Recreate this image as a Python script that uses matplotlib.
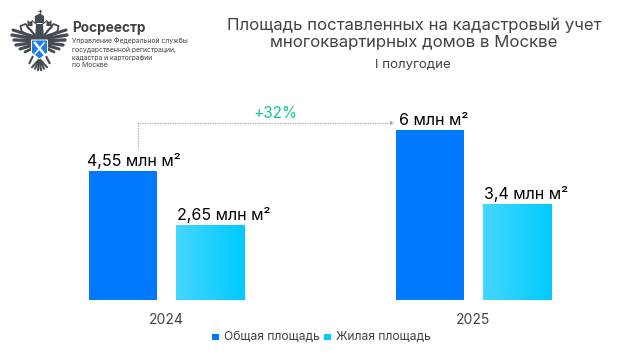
import numpy as np
import matplotlib
matplotlib.use('Agg')
import matplotlib.pyplot as plt
from matplotlib.patches import Polygon, Rectangle

years = ['2024', '2025']
total_area = [4.55, 6.0]
living_area = [2.65, 3.4]
total_labels = ['4,55 млн м²', '6 млн м²']
living_labels = ['2,65 млн м²', '3,4 млн м²']
legend_names = ['Общая площадь', 'Жилая площадь']
title_lines = ['Площадь поставленных на кадастровый учет', 'многоквартирных домов в Москве']
subtitle = 'I полугодие'
change_label = '+32%'
org_name = 'Росреестр'
org_lines = ['Управление Федеральной службы', 'государственной регистрации,', 'кадастра и картографии', 'по Москве']

BLUE = '#0079FF'
CYAN_L = '#45D6FF'
CYAN_R = '#00CBFF'
DARK = '#404246'
W, H = 637, 358

plt.rcParams['font.family'] = ['Inter', 'DejaVu Sans']


def draw_logo(ov):
    grey = '#454B52'
    cx = 39.5
    for s in (-1, 1):
        # wing feathers fan out from the body
        for (tx, ty), lw in zip([(13, 30), (12, 35), (14, 40), (16, 45), (20, 49), (25, 52)], [2.2, 2.4, 2.4, 2.4, 2.2, 2.0]):
            ov.plot([cx + s * 8, cx - s * (39.5 - tx)], [41, ty], color=grey, lw=lw, solid_capstyle='round')
        # neck, hooked head and crown
        ov.plot([cx + s * 5, cx + s * 11, cx + s * 18, cx + s * 19, cx + s * 14, cx + s * 12],
                [38, 36, 31, 26, 24, 26], color=grey, lw=1.3)
        ov.plot([cx + s * 4, cx + s * 9, cx + s * 12], [36, 30, 27], color=grey, lw=1.6)
        ov.add_patch(Polygon([(cx + s * 7, 26), (cx + s * 7, 20), (cx + s * 9.5, 22), (cx + s * 12, 20), (cx + s * 12, 26)],
                             closed=True, fc=grey, ec='none'))
        ov.plot([cx + s * 2, cx + s * 7], [25, 21], color=grey, lw=0.8)
        # legs
        ov.plot([cx + s * 7, cx + s * 10], [57, 63], color=grey, lw=1.5)
    # middle crown and cross
    ov.add_patch(Polygon([(35, 23), (35, 16), (39.5, 13.5), (44, 16), (44, 23)], closed=True, fc=grey, ec='none'))
    ov.plot([39.5, 39.5], [9.5, 14], color=grey, lw=0.9)
    ov.plot([38, 41], [11, 11], color=grey, lw=0.6)
    ov.add_patch(Polygon([(36, 24), (43, 24), (44, 40), (35, 40)], closed=True, fc=grey, ec='none'))
    # tail
    for tx in (32, 35, 38, 41, 44, 47):
        ov.plot([39.5, tx], [59, 71 - abs(tx - 39.5) * 0.5], color=grey, lw=1.5, solid_capstyle='round')
    # shield
    ov.add_patch(Polygon([(31.5, 40), (47.5, 40), (47.5, 53), (39.5, 59), (31.5, 53)], closed=True,
                         fc='#1B7FEA', ec='white', lw=0.7, zorder=4))
    ov.plot([35, 44], [43, 54], color='white', lw=1.8, zorder=5)
    ov.plot([44, 35], [43, 54], color='white', lw=1.1, zorder=5)


fig = plt.figure(figsize=(W / 100, H / 100), dpi=100)

# bar area: y=0 sits at pixel row 300, position 0 and 1 at the group centres
ax = fig.add_axes([13 / W, 1 - 300 / H, 614 / W, 184.2 / H])
x = np.arange(len(years))
bar_w = 0.2215
off = 0.1417
b1 = ax.bar(x - off, total_area, bar_w, color=BLUE)
b2 = ax.bar(x + off, living_area, bar_w, color=CYAN_R)
ax.axis('off')

# living area bars fade from left to right
grad = matplotlib.colors.LinearSegmentedColormap.from_list('cy', [CYAN_L, CYAN_R])
for bar in b2:
    x0, w, h = bar.get_x(), bar.get_width(), bar.get_height()
    im = ax.imshow(np.linspace(0, 1, 64).reshape(1, -1), extent=(x0, x0 + w, 0, h), cmap=grad, aspect='auto', zorder=3)
    im.set_clip_path(bar)
ax.set_xlim(-0.5, 1.5)
ax.set_ylim(0, 6.5)

# value labels start near the left edge of their bars, nudged by hand
nudge_total = [-1.4, 2.0]
nudge_living = [0.5, 0.8]
for i in x:
    ax.annotate(total_labels[i], (i - off - bar_w / 2, total_area[i]), xytext=(nudge_total[i], 1.2), textcoords='offset points',
                ha='left', va='bottom', fontsize=11.5, color='black')
    ax.annotate(living_labels[i], (i + off - bar_w / 2, living_area[i]), xytext=(nudge_living[i], 1.2), textcoords='offset points',
                ha='left', va='bottom', fontsize=11.5, color='black')
    ax.annotate(years[i], (i, 0), xytext=(0, -9.5), textcoords='offset points',
                ha='center', va='top', fontsize=10, color=DARK)

# overlay in pixel coordinates for the header, legend and arrow
ov = fig.add_axes([0, 0, 1, 1], facecolor='none')
ov.set_xlim(0, W)
ov.set_ylim(H, 0)
ov.axis('off')

for y, line in zip((25, 43), title_lines):
    ov.text(414, y, line, ha='center', va='center', fontsize=12.05, color=DARK)
ov.text(413, 65, subtitle, ha='center', va='center', fontsize=9.6, color=DARK)

draw_logo(ov)
ov.text(72, 28, org_name, ha='left', va='center', fontsize=9.8, fontweight='bold', color=DARK)
for y, line in zip((41, 49.5, 57.5, 65), org_lines):
    ov.text(72, y, line, ha='left', va='center', fontsize=4.9, color=DARK)

ov.plot([138, 138, 390], [149, 123, 123], color='#A8A8A8', lw=0.9, ls=(0, (1, 1)))
ov.add_patch(Polygon([(390, 120.8), (393.5, 123), (390, 125.2)], closed=True, fc='#9A9A9A', ec='none'))
ov.text(276, 114, change_label, ha='center', va='center', fontsize=11, color='#12C795')

ov.add_patch(Rectangle((212, 333.5), 6.5, 6.5, fc=BLUE, ec='none'))
ov.text(224, 337, legend_names[0], ha='left', va='center', fontsize=8.7, color=DARK)
ov.add_patch(Rectangle((324, 333.5), 6.5, 6.5, fc=CYAN_R, ec='none'))
ov.text(336, 337, legend_names[1], ha='left', va='center', fontsize=8.7, color=DARK)

fig.savefig('out.png', dpi=100)
